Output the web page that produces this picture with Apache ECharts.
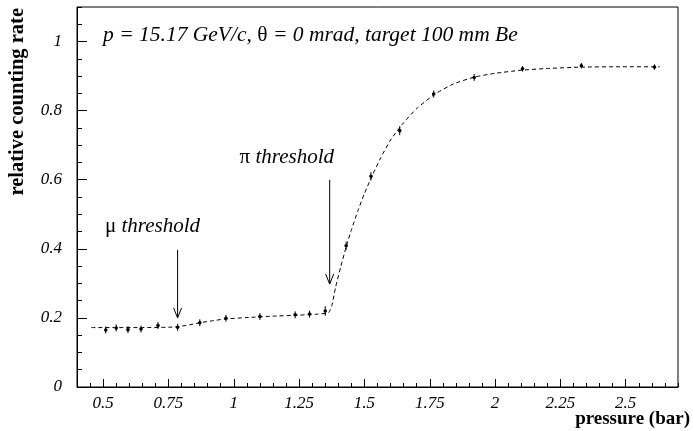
<!DOCTYPE html>
<html>
<head>
<meta charset="utf-8">
<script src="https://cdn.jsdelivr.net/npm/echarts@6/dist/echarts.min.js"></script>
<style>
  html, body { margin: 0; padding: 0; background: #fff; }
  #chart { width: 693px; height: 431px; }
</style>
</head>
<body>
<div id="chart"></div>
<script>
// measured points
const pressure = [0.51, 0.55, 0.595, 0.645, 0.71, 0.785, 0.87, 0.97, 1.1, 1.235, 1.29, 1.35, 1.43, 1.525, 1.635, 1.765, 1.92, 2.105, 2.33, 2.61]
const rate = [0.165, 0.171, 0.166, 0.168, 0.178, 0.173, 0.186, 0.199, 0.204, 0.209, 0.211, 0.220, 0.409, 0.610, 0.742, 0.848, 0.896, 0.921, 0.930, 0.926]
const rateErr = [0.01, 0.01, 0.01, 0.01, 0.01, 0.01, 0.01, 0.01, 0.01, 0.01, 0.01, 0.014, 0.012, 0.012, 0.013, 0.01, 0.01, 0.008, 0.008, 0.008]

// fit curve
const fitPressure = [0.455, 0.55, 0.65, 0.75, 0.79, 0.83, 0.87, 0.92, 0.97, 1.05, 1.15, 1.25, 1.32, 1.362, 1.375, 1.39, 1.41, 1.43, 1.45, 1.475, 1.5, 1.53, 1.56, 1.6, 1.65, 1.7, 1.77, 1.84, 1.92, 2.0, 2.1, 2.2, 2.33, 2.48, 2.63]
const fitRate = [0.172, 0.172, 0.172, 0.173, 0.175, 0.180, 0.186, 0.192, 0.197, 0.201, 0.205, 0.208, 0.211, 0.215, 0.235, 0.29, 0.35, 0.405, 0.455, 0.51, 0.56, 0.612, 0.66, 0.715, 0.765, 0.806, 0.848, 0.877, 0.897, 0.908, 0.917, 0.922, 0.926, 0.927, 0.927]

// arrows: [x, from, to]
const arrows = [[0.785, 0.397, 0.200], [1.367, 0.600, 0.298]]

// tick labels
const xLabels = [0.5, 0.75, 1, 1.25, 1.5, 1.75, 2, 2.25, 2.5]
const yLabels = [0, 0.2, 0.4, 0.6, 0.8, 1]

const serif = "'Liberation Serif', 'Times New Roman', serif"
const gridPos = { left: 77, right: 15, top: 7, bottom: 44 }

// italic text with upright greek letters
const mixedRich = (size) => ({
  i: { fontFamily: serif, fontStyle: 'italic', fontSize: size, fill: '#000' },
  n: { fontFamily: serif, fontSize: size, fill: '#000' }
})

const chart = echarts.init(document.getElementById('chart'))

chart.setOption({
  animation: false,
  grid: [
    Object.assign({ show: true, borderColor: '#000', borderWidth: 1 }, gridPos),
    Object.assign({}, gridPos)
  ],
  xAxis: [
    {
      gridIndex: 0,
      type: 'value',
      min: 0.4,
      max: 2.7,
      axisLine: { show: true, lineStyle: { color: '#000' } },
      axisTick: { inside: true, length: 8, customValues: xLabels, lineStyle: { color: '#000' } },
      axisLabel: { customValues: xLabels, margin: 8, color: '#000', fontFamily: serif, fontStyle: 'italic', fontSize: 17 },
      splitLine: { show: false }
    },
    {
      // minor ticks
      gridIndex: 1,
      type: 'value',
      min: 0.4,
      max: 2.7,
      interval: 0.05,
      axisLine: { show: false },
      axisTick: { inside: true, length: 4, lineStyle: { color: '#000' } },
      axisLabel: { show: false },
      splitLine: { show: false }
    }
  ],
  yAxis: [
    {
      gridIndex: 0,
      type: 'value',
      min: 0,
      max: 1.1,
      axisLine: { show: true, lineStyle: { color: '#000' } },
      axisTick: { inside: true, length: 10, customValues: yLabels, lineStyle: { color: '#000' } },
      axisLabel: { customValues: yLabels, margin: 15, color: '#000', fontFamily: serif, fontStyle: 'italic', fontSize: 17 },
      splitLine: { show: false }
    },
    {
      gridIndex: 1,
      type: 'value',
      min: 0,
      max: 1.1,
      interval: 0.05,
      axisLine: { show: false },
      axisTick: { inside: true, length: 5, lineStyle: { color: '#000' } },
      axisLabel: { show: false },
      splitLine: { show: false }
    }
  ],
  graphic: [
    {
      type: 'text', x: 103, y: 35,
      style: {
        text: '{i|p = 15.17 GeV/c, }{n|θ}{i| = 0 mrad, target 100 mm Be}',
        verticalAlign: 'middle',
        rich: mixedRich(21.5)
      }
    },
    {
      type: 'text', x: 334, y: 157, 
      style: {
        text: '{n|π }{i|threshold}',
        align: 'right', verticalAlign: 'middle',
        rich: mixedRich(21)
      }
    },
    {
      type: 'text', x: 105, y: 226,
      style: {
        text: '{n|μ }{i|threshold}',
        verticalAlign: 'middle',
        rich: mixedRich(21)
      }
    },
    {
      type: 'text', x: 18, y: 8, rotation: Math.PI / 2,
      style: {
        text: 'relative counting rate',
        align: 'right', verticalAlign: 'middle',
        fontFamily: serif, fontWeight: 'bold', fontSize: 20.5, fill: '#000'
      }
    },
    {
      type: 'text', x: 690, y: 419,
      style: {
        text: 'pressure (bar)',
        align: 'right', verticalAlign: 'middle',
        fontFamily: serif, fontWeight: 'bold', fontSize: 19, fill: '#000'
      }
    }
  ],
  series: [
    {
      name: 'fit',
      type: 'line',
      xAxisIndex: 0,
      yAxisIndex: 0,
      data: fitPressure.map((p, i) => [p, fitRate[i]]),
      showSymbol: false,
      smooth: 0.2,
      lineStyle: { color: '#000', width: 1, type: [4, 3] }
    },
    {
      name: 'data',
      type: 'custom',
      xAxisIndex: 0,
      yAxisIndex: 0,
      data: pressure.map((p, i) => [p, rate[i], rateErr[i]]),
      renderItem: (params, api) => {
        const x = api.value(0)
        const y = api.value(1)
        const e = api.value(2)
        const c = api.coord([x, y])
        const lo = api.coord([x, y - e])
        const hi = api.coord([x, y + e])
        return {
          type: 'group',
          children: [
            { type: 'line', shape: { x1: lo[0], y1: lo[1], x2: hi[0], y2: hi[1] }, style: { stroke: '#000', lineWidth: 1 } },
            { type: 'circle', shape: { cx: c[0], cy: c[1], r: 1.8 }, style: { fill: '#000' } }
          ]
        }
      }
    },
    {
      name: 'arrows',
      type: 'custom',
      xAxisIndex: 0,
      yAxisIndex: 0,
      data: arrows,
      renderItem: (params, api) => {
        const top = api.coord([api.value(0), api.value(1)])
        const tip = api.coord([api.value(0), api.value(2)])
        return {
          type: 'group',
          children: [
            { type: 'line', shape: { x1: top[0], y1: top[1], x2: tip[0], y2: tip[1] }, style: { stroke: '#000', lineWidth: 1 } },
            {
              type: 'polyline',
              shape: { points: [[tip[0] - 4, tip[1] - 10], [tip[0], tip[1]], [tip[0] + 4, tip[1] - 10]] },
              style: { stroke: '#000', fill: null, lineWidth: 1 }
            }
          ]
        }
      }
    }
  ]
})
</script>
</body>
</html>
